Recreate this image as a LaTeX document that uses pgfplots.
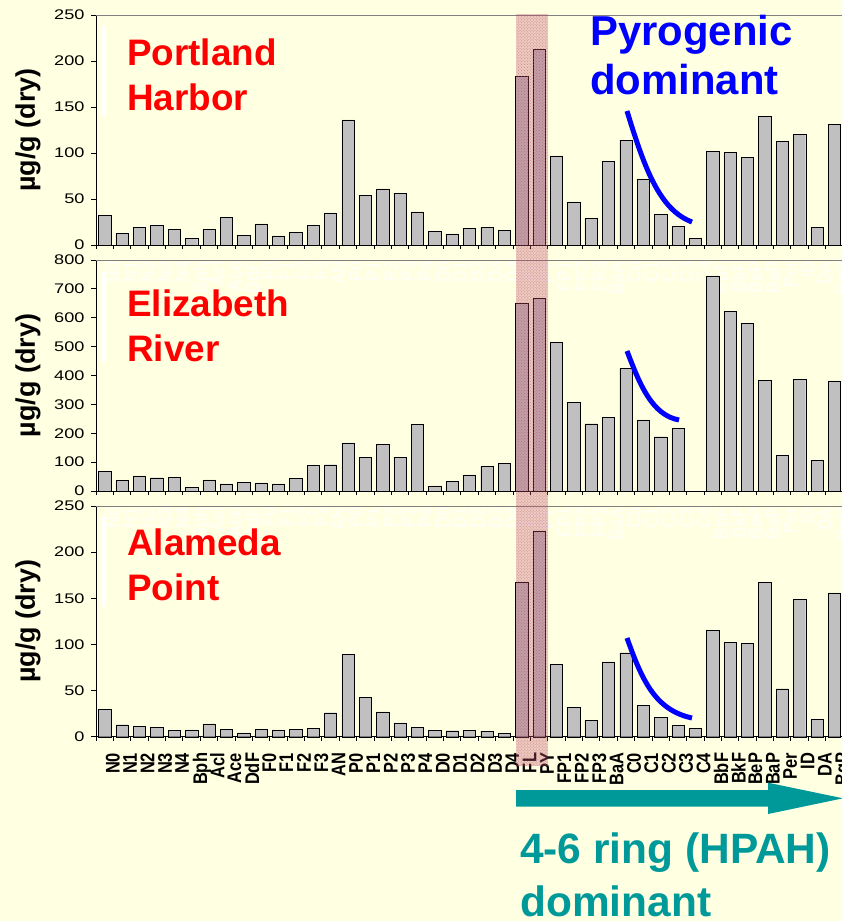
\documentclass[border=0pt]{standalone}
\usepackage{pgfplots}
\pgfplotsset{compat=1.18}
\usepackage{pgfplotstable}
\usetikzlibrary{patterns}
\usepackage{graphicx}
\usepackage{fontspec}
\setmainfont{Liberation Sans}
\newfontfamily\tickfont{Liberation Sans}[FakeStretch=1.3]
\definecolor{bgy}{RGB}{255,255,225}
\definecolor{ghost}{RGB}{255,255,244}
\definecolor{barg}{RGB}{192,192,192}
\definecolor{tealc}{RGB}{0,153,153}
\definecolor{pinkb}{RGB}{200,80,110}
\newcommand\xl[1]{\scalebox{1}[1.2]{#1}}

\pgfplotstableread{
x PH ER AP
0 32 67 30
1 13 37 13
2 19 52 11.6
3 21 46 10.5
4 17 47 7
5 7 13 7.3
6 17 39 14
7 30 25 8
8 10.5 30 4.3
9 23 28 8.3
10 10 25 7.3
11 14 44 8
12 21 89 9
13 35 91 26
14 136 167 89
15 54 117 43
16 61 162 27
17 56 117 15
18 36 230 10
19 15 18 7
20 12 33 6.5
21 18 56 7
22 19 85 6
23 16 95 4
24 183 650 167
25 213 668 223
26 97 515 78.5
27 47 306 32
28 29 233 18
29 91 254 81
30 114 425 91
31 72 246 34
32 33 188 21
33 20 217 12
34 7 0 9
35 102 745 115
36 101 623 102
37 95 581 101
38 140 383 167
39 113 123 52
40 120 386 149
41 19 105 19
42 131 381 156
}\data

\pgfplotsset{panel/.style={
  scale only axis, width=747bp, anchor=south west,
  xmin=-0.5, xmax=42.5, ymin=0,
  axis x line*=bottom, axis y line*=left,
  axis line style={-, line width=0.8bp, black},
  tick align=outside, major tick length=5bp, minor tick length=4bp,
  xtick={0,...,42},
  xticklabels={\xl{N0},\xl{N1},\xl{N2},\xl{N3},\xl{N4},\xl{Bph},\xl{Acl},\xl{Ace},\xl{DdF},\xl{F0},\xl{F1},\xl{F2},\xl{F3},\xl{AN},\xl{P0},\xl{P1},\xl{P2},\xl{P3},\xl{P4},\xl{D0},\xl{D1},\xl{D2},\xl{D3},\xl{D4},\xl{FL},\xl{PY},\xl{FP1},\xl{FP2},\xl{FP3},\xl{BaA},\xl{C0},\xl{C1},\xl{C2},\xl{C3},\xl{C4},\xl{BbF},\xl{BkF},\xl{BeP},\xl{BaP},\xl{Per},\xl{ID},\xl{DA},\xl{BgP}},
  minor xtick={-0.5,0.5,...,42.5},
  major x tick style={draw=none},
  minor x tick style={black, line width=0.8bp},
  ytick style={black, line width=0.8bp},
  xticklabel style={rotate=90, anchor=north east, inner sep=1bp, font=\bfseries\fontsize{16.5}{17}\selectfont},
  xticklabel shift=10bp,
  yticklabel style={xshift=-3bp, font=\tickfont\fontsize{14}{15}\selectfont},
  /pgf/number format/assume math mode=true,
  ylabel={µg/g (dry)},
  ylabel style={at={(axis description cs:-0.091,0.5)}, anchor=center, font=\bfseries\fontsize{27}{30}\selectfont},
  ybar, bar width=12.3bp,
  cycle list={{fill=barg, draw=black, line width=1bp}},
  clip=false,
}}

\begin{document}
\begin{tikzpicture}[x=1bp,y=1bp]
\fill[bgy] (0,0) rectangle (842,-921);
\path[use as bounding box] (0,0) rectangle (842,-921);

% top panel
\begin{axis}[panel, at={(96bp,-245bp)}, height=230bp, ymax=250, ytick={0,50,...,250},
  xticklabel style={text=ghost}]
  \addplot table[x=x, y=PH] {\data};
  \draw[gray, line width=1bp] (rel axis cs:0,1) -- (rel axis cs:1,1);
\end{axis}
% middle panel
\begin{axis}[panel, at={(96bp,-491bp)}, height=231bp, ymax=800, ytick={0,100,...,800},
  xticklabel style={text=ghost}]
  \addplot table[x=x, y=ER] {\data};
  \draw[gray, line width=1bp] (rel axis cs:0,1) -- (rel axis cs:1,1);
\end{axis}
% bottom panel
\begin{axis}[panel, at={(96bp,-736.7bp)}, height=230.7bp, ymax=250, ytick={0,50,...,250}]
  \addplot table[x=x, y=AP] {\data};
  \draw[gray, line width=1bp] (rel axis cs:0,1) -- (rel axis cs:1,1);
\end{axis}

% pink band over FL and PY
\fill[pinkb, opacity=0.3] (516,-14) rectangle (548,-766);
\fill[pattern=crosshatch dots, pattern color=pinkb!80!black, opacity=0.5] (516,-14) rectangle (548,-766);

% white strokes
\fill[white] (102,-26) rectangle (106,-115);
\fill[white] (102,-272) rectangle (106,-362);
\fill[white] (102,-517) rectangle (106,-607);

% site names
\begin{scope}[every node/.style={anchor=base west, inner sep=0pt, text=red, font=\bfseries\fontsize{37}{40}\selectfont}]
\node at (127,-65) {Portland};
\node at (127,-110) {Harbor};
\node at (127,-316.7) {Elizabeth};
\node at (127,-361) {River};
\node at (127,-555) {Alameda};
\node at (127,-600.7) {Point};
\end{scope}

% pyrogenic
\begin{scope}[every node/.style={anchor=base west, inner sep=0pt, text=blue, font=\bfseries\fontsize{42}{44}\selectfont}]
\node at (590,-45) {Pyrogenic};
\node at (590,-94.3) {dominant};
\end{scope}
\draw[blue, line width=5bp] (627,-111) .. controls (645,-170) and (660,-210) .. (692,-222);
\draw[blue, line width=5bp] (627,-351) .. controls (640,-385) and (652,-415) .. (679,-420);
\draw[blue, line width=5bp] (627,-638) .. controls (642,-680) and (655,-710) .. (692,-718);

% teal arrow and text
\fill[tealc] (516,-790) -- (768,-790) -- (768,-782.7) -- (843,-798.3) -- (768,-814) -- (768,-806.7) -- (516,-806.7) -- cycle;
\begin{scope}[every node/.style={anchor=base west, inner sep=0pt, text=tealc, font=\bfseries\fontsize{42.6}{46}\selectfont}]
\node at (520,-863.3) {4-6 ring (HPAH)};
\node at (520,-916.5) {dominant};
\end{scope}
\end{tikzpicture}
\end{document}
